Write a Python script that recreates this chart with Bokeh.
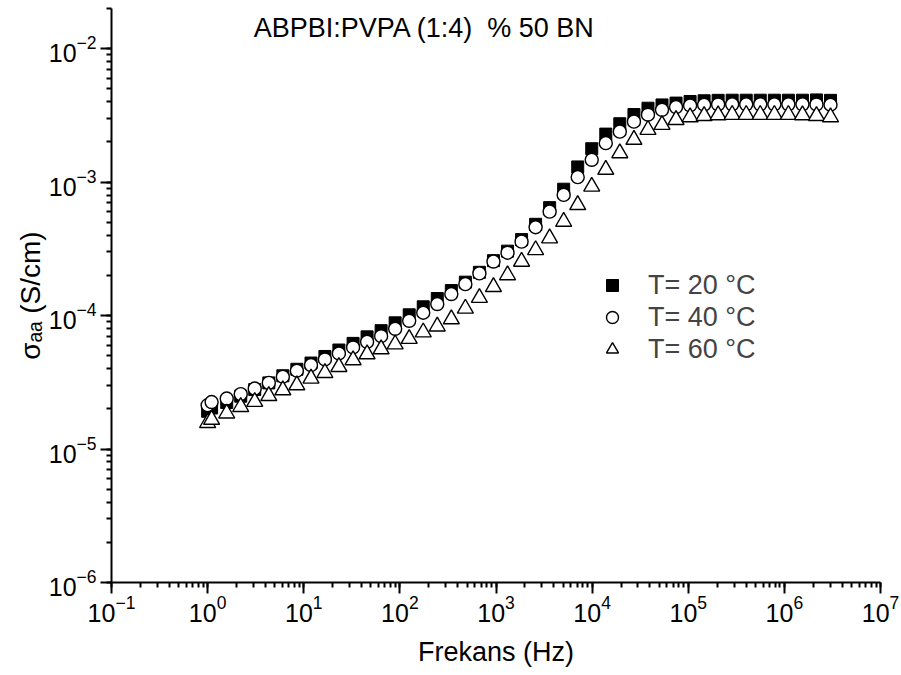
from bokeh.plotting import figure
from bokeh.models import LogTicker, Label, Legend, LegendItem, Range1d
from bokeh.embed import file_html
from bokeh.resources import INLINE

# ---------------- data ----------------
freq_hz = [1.0, 1.1, 1.58, 2.21, 3.09, 4.33, 6.06, 8.48, 11.9, 16.6, 23.2, 32.6, 45.6,
           63.8, 89.3, 125, 175, 245, 343, 480, 672, 941, 1318, 1845, 2582, 3614, 5058,
           7079, 9908, 13870, 19410, 27230, 38110, 53330, 74640, 104500, 146200, 204600,
           286400, 400900, 561000, 787000, 1101000, 1542000, 2158000, 3020000]

sigma_20 = [1.92e-5, 2.03e-5, 2.23e-5, 2.49e-5, 2.79e-5, 3.13e-5, 3.54e-5, 3.96e-5, 4.41e-5, 4.94e-5,
            5.52e-5, 6.19e-5, 6.93e-5, 7.71e-5, 8.83e-5, 1.014e-4, 1.164e-4, 1.342e-4, 1.54e-4, 1.78e-4,
            2.11e-4, 2.58e-4, 3.04e-4, 3.71e-4, 4.83e-4, 6.44e-4, 8.85e-4, 1.30e-3, 1.78e-3, 2.29e-3,
            2.74e-3, 3.21e-3, 3.58e-3, 3.79e-3, 3.91e-3, 4.02e-3, 4.07e-3, 4.10e-3, 4.11e-3, 4.11e-3,
            4.11e-3, 4.11e-3, 4.11e-3, 4.11e-3, 4.13e-3, 4.10e-3]

sigma_40 = [2.13e-5, 2.25e-5, 2.39e-5, 2.58e-5, 2.84e-5, 3.13e-5, 3.48e-5, 3.86e-5, 4.26e-5, 4.69e-5,
            5.20e-5, 5.77e-5, 6.36e-5, 7.01e-5, 7.96e-5, 9.14e-5, 1.05e-4, 1.22e-4, 1.45e-4, 1.72e-4,
            2.07e-4, 2.54e-4, 2.96e-4, 3.58e-4, 4.59e-4, 6.01e-4, 8.02e-4, 1.09e-3, 1.47e-3, 1.96e-3,
            2.39e-3, 2.84e-3, 3.20e-3, 3.48e-3, 3.65e-3, 3.75e-3, 3.80e-3, 3.82e-3, 3.83e-3, 3.83e-3,
            3.83e-3, 3.83e-3, 3.83e-3, 3.83e-3, 3.82e-3, 3.80e-3]

sigma_60 = [1.57e-5, 1.66e-5, 1.85e-5, 2.07e-5, 2.26e-5, 2.50e-5, 2.76e-5, 3.01e-5, 3.38e-5, 3.72e-5,
            4.13e-5, 4.64e-5, 5.14e-5, 5.60e-5, 6.10e-5, 6.70e-5, 7.50e-5, 8.30e-5, 9.40e-5, 1.13e-4,
            1.36e-4, 1.64e-4, 2.01e-4, 2.54e-4, 3.10e-4, 3.80e-4, 5.06e-4, 6.75e-4, 9.27e-4, 1.24e-3,
            1.65e-3, 2.08e-3, 2.47e-3, 2.69e-3, 2.93e-3, 3.07e-3, 3.14e-3, 3.18e-3, 3.20e-3, 3.20e-3,
            3.20e-3, 3.20e-3, 3.20e-3, 3.18e-3, 3.14e-3, 3.07e-3]

series_labels = ["T= 20 \u00b0C", "T= 40 \u00b0C", "T= 60 \u00b0C"]
title_text = "ABPBI:PVPA (1:4)\u00a0 % 50 BN"
x_title = "Frekans (Hz)"
y_title = "\u03c3\u2090\u2090 (S/cm)"
x_limits = (1e-1, 1e7)
y_limits = (1e-6, 2e-2)

FONT = "Liberation Sans"

# ---------------- figure ----------------
p = figure(width=901, height=675, x_axis_type="log", y_axis_type="log",
           x_range=Range1d(*x_limits), y_range=Range1d(*y_limits),
           output_backend="svg", toolbar_location=None,
           min_border_left=111, min_border_right=21, min_border_top=8, min_border_bottom=93)
p.outline_line_color = None
p.xgrid.visible = False
p.ygrid.visible = False
p.background_fill_color = "white"
p.border_fill_color = "white"

for ax in (p.xaxis[0], p.yaxis[0]):
    ax.ticker = LogTicker(mantissas=[1], desired_num_ticks=10, num_minor_ticks=10)
    ax.axis_line_width = 2
    ax.major_tick_line_width = 2
    ax.minor_tick_line_width = 2
    ax.major_tick_out = 11
    ax.major_tick_in = 0
    ax.minor_tick_out = 5
    ax.minor_tick_in = 0
    ax.major_label_text_font = FONT
    ax.major_label_text_font_size = "25px"
    ax.major_label_text_color = "black"
    ax.axis_line_color = "black"
    ax.major_tick_line_color = "black"
    ax.minor_tick_line_color = "black"
    ax.axis_label_text_font = FONT
    ax.axis_label_text_font_size = "27px"
    ax.axis_label_text_font_style = "normal"
    ax.axis_label_text_color = "black"

p.xaxis.major_label_standoff = 1
p.yaxis.major_label_standoff = 4
p.xaxis.axis_label = x_title
p.xaxis.axis_label_standoff = 12
p.yaxis.axis_label = y_title
p.yaxis.axis_label_text_font_size = "28px"
p.yaxis.axis_label_standoff = 0

r20 = p.scatter(freq_hz, sigma_20, marker="square", size=12,
                fill_color="black", line_color="black", line_width=1)
r40 = p.scatter(freq_hz, sigma_40, marker="circle", size=13,
                fill_color="white", line_color="black", line_width=1.4)
r60 = p.scatter(freq_hz, sigma_60, marker="triangle", size=16,
                fill_color="white", line_color="black", line_width=1.4)

legend = Legend(items=[LegendItem(label=series_labels[0], renderers=[r20]),
                       LegendItem(label=series_labels[1], renderers=[r40]),
                       LegendItem(label=series_labels[2], renderers=[r60])],
                location=(486, 217), padding=0, margin=0, spacing=0,
                glyph_width=30, glyph_height=32, label_height=32, label_standoff=21,
                label_text_font=FONT, label_text_font_size="27px",
                border_line_color=None, background_fill_alpha=0)
p.add_layout(legend, "center")

p.add_layout(Label(x=313, y=555, x_units="screen", y_units="screen", text=title_text,
                   text_align="center", text_baseline="middle",
                   text_font=FONT, text_font_size="27px", text_color="black"))

open("out.html", "w").write(file_html(p, INLINE))
